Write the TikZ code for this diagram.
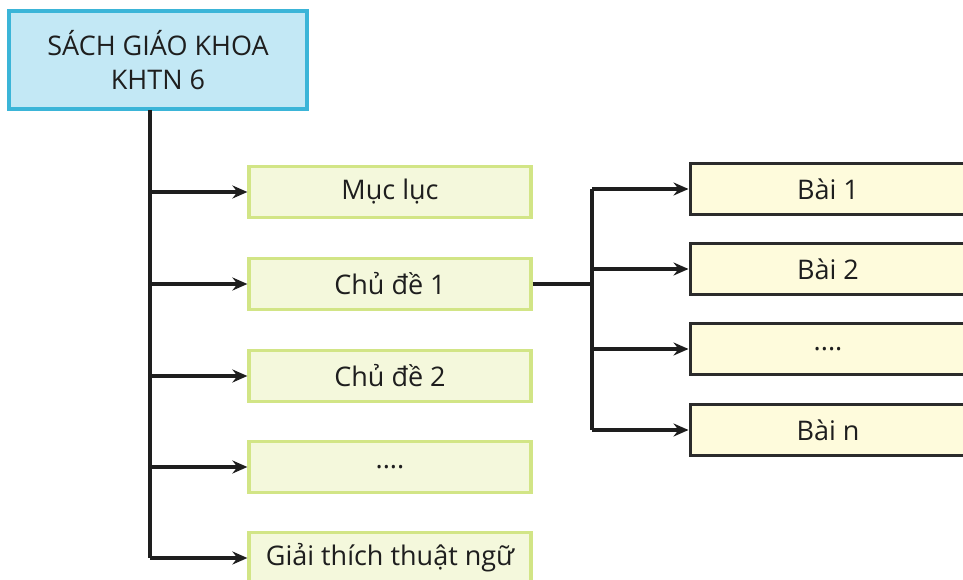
\documentclass[tikz,border=0pt]{standalone}
\usepackage{fontspec}
\setmainfont{Open Sans}
\usetikzlibrary{arrows.meta}
\definecolor{topfill}{HTML}{C3E8F5}
\definecolor{topline}{HTML}{3BB5D8}
\definecolor{grnfill}{HTML}{F4F8DC}
\definecolor{grnline}{HTML}{D2E586}
\definecolor{ylwfill}{HTML}{FEFBDC}
\definecolor{ylwline}{HTML}{2B2B2B}
\definecolor{ink}{HTML}{1E1E1E}
\tikzset{
  px/.style={x=1pt,y=-1pt},
  topbox/.style={draw=topline,fill=topfill,line width=3.2pt,minimum width=298pt,minimum height=98pt,
    align=center,font=\fontsize{27}{34}\selectfont,text=ink,inner sep=0pt},
  leftbox/.style={draw=grnline,fill=grnfill,line width=3.2pt,minimum width=282pt,minimum height=51pt,
    font=\fontsize{27}{30}\selectfont,text=ink,inner sep=0pt},
  rightbox/.style={draw=ylwline,fill=ylwfill,line width=3pt,minimum width=276pt,minimum height=51pt,
    font=\fontsize{27}{30}\selectfont,text=ink,inner sep=0pt},
  link/.style={draw=ink,line width=4.2pt},
  arrowlink/.style={link,-{Stealth[length=15pt,width=13pt,inset=5pt]}},
}
\begin{document}
\begin{tikzpicture}[px]
\useasboundingbox (0,0) rectangle (963,580);
\clip (0,0) rectangle (963,580);
\fill[white] (0,0) rectangle (963,580);

% root box
\node[topbox] (root) at (158,60) {SÁCH GIÁO KHOA\\KHTN 6};

% first-level boxes
\node[leftbox] (muc)  at (390,192) {Mục lục};
\node[leftbox] (cd1)  at (390,284) {Chủ đề 1};
\node[leftbox] (cd2)  at (390,376) {Chủ đề 2};
\node[leftbox] (etc)  at (390,467) {....};
\node[leftbox] (gt)   at (390,558) {Giải thích thuật ngữ};

% lessons of topic 1
\node[rightbox] (b1) at (828,189) {Bài 1};
\node[rightbox] (b2) at (828,269) {Bài 2};
\node[rightbox] (bx) at (828,349) {....};
\node[rightbox] (bn) at (828,430) {Bài n};

% trunk from the root
\coordinate (trunk) at (150,110);
\draw[link] (trunk) -- (trunk |- gt.west);
\foreach \n in {muc,cd1,cd2,etc,gt}
  \draw[arrowlink] (trunk |- \n.west) -- (\n.west);

% branch from topic 1
\coordinate (fork) at (592,284);
\draw[link] (cd1.east) -- (fork);
\draw[link] (fork |- b1.west) -- (fork |- bn.west);
\foreach \n in {b1,b2,bx,bn}
  \draw[arrowlink] (fork |- \n.west) -- (\n.west);
\end{tikzpicture}
\end{document}
